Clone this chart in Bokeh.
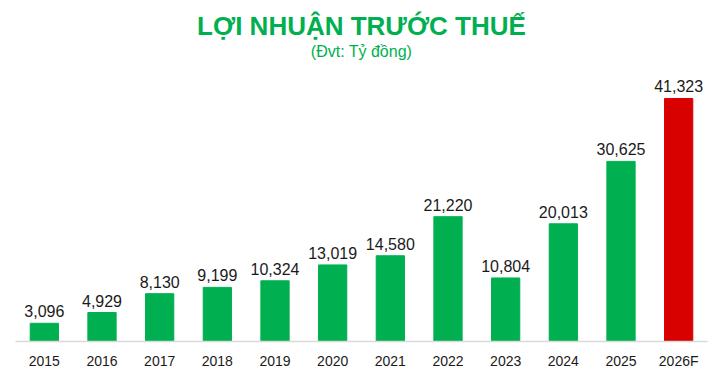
from bokeh.plotting import figure
from bokeh.models import ColumnDataSource, Title, Range1d, FactorRange
from bokeh.core.properties import value
from bokeh.embed import file_html
from bokeh.resources import INLINE

years = ["2015", "2016", "2017", "2018", "2019", "2020", "2021", "2022", "2023", "2024", "2025", "2026F"]
profit = [3096, 4929, 8130, 9199, 10324, 13019, 14580, 21220, 10804, 20013, 30625, 41323]
colors = ["#00b050"] * 11 + ["#d90000"]
labels = [f"{v:,}" for v in profit]

src = ColumnDataSource(dict(x=years, y=profit, c=colors, t=labels))

p = figure(width=721, height=375, x_range=FactorRange(*years, range_padding=0),
           y_range=Range1d(0, 47100), output_backend="svg", toolbar_location=None,
           title=None, min_border_left=15, min_border_right=14, min_border_top=0,
           min_border_bottom=34)

p.vbar(x="x", top="y", width=0.49, color="c", source=src)
p.text(x="x", y="y", text="t", source=src, text_align="center", text_baseline="bottom",
       y_offset=-6, text_font=value("Liberation Sans"), text_font_size="16px",
       text_color="#1a1a1a")

sub = Title(text="(Đvt: Tỷ đồng)", align="center", text_font="Liberation Sans",
            text_font_size="16px", text_font_style="normal", text_color="#00b050")
main = Title(text="LỢI NHUẬN TRƯỚC THUẾ", align="center", text_font="Liberation Sans",
             text_font_size="26px", text_font_style="bold", text_color="#00b050",
             standoff=-10)
spacer = Title(text=" ", text_font_size="10px", standoff=0)
p.add_layout(sub, "above")
p.add_layout(main, "above")
p.add_layout(spacer, "above")

p.yaxis.visible = False
p.xgrid.grid_line_color = None
p.ygrid.grid_line_color = None
p.outline_line_color = None
p.xaxis.axis_line_color = "#d9d9d9"
p.xaxis.axis_line_width = 1.5
p.xaxis.major_tick_line_color = None
p.xaxis.minor_tick_line_color = None
p.xaxis.major_label_standoff = 5
p.xaxis.major_label_text_font = "Liberation Sans"
p.xaxis.major_label_text_font_size = "14px"
p.xaxis.major_label_text_color = "#1a1a1a"

open("out.html", "w").write(file_html(p, INLINE))
